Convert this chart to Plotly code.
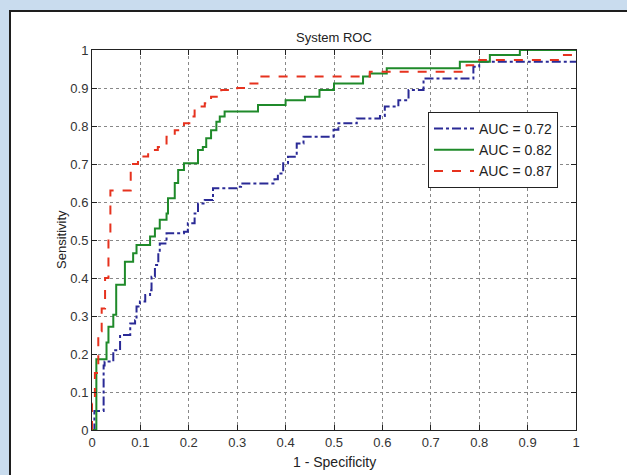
import plotly.graph_objects as go

# ---- data ----
fpr_072 = [0, 0.005, 0.024, 0.026, 0.044, 0.058, 0.079, 0.089, 0.092, 0.099, 0.11, 0.12, 0.123, 0.13,
           0.137, 0.14, 0.154, 0.19, 0.198, 0.212, 0.219, 0.233, 0.25, 0.302, 0.308, 0.377, 0.384,
           0.395, 0.405, 0.423, 0.437, 0.499, 0.509, 0.547, 0.595, 0.605, 0.633, 0.654, 0.685,
           0.788, 0.80, 1.0]
tpr_072 = [0, 0.05, 0.17, 0.18, 0.21, 0.25, 0.28, 0.289, 0.325, 0.338, 0.355, 0.368, 0.403, 0.434,
           0.469, 0.491, 0.518, 0.522, 0.544, 0.57, 0.596, 0.605, 0.636, 0.64, 0.649, 0.66, 0.675,
           0.702, 0.719, 0.754, 0.772, 0.79, 0.807, 0.82, 0.826, 0.851, 0.868, 0.895, 0.925,
           0.956, 0.969, 0.972]

fpr_082 = [0, 0.009, 0.03, 0.034, 0.044, 0.05, 0.068, 0.085, 0.092, 0.12, 0.13, 0.14, 0.154, 0.157,
           0.171, 0.178, 0.19, 0.219, 0.229, 0.236, 0.246, 0.257, 0.264, 0.274, 0.343, 0.40, 0.44,
           0.47, 0.50, 0.56, 0.574, 0.609, 0.76, 0.822, 0.884, 1.0]
tpr_082 = [0, 0.186, 0.23, 0.272, 0.303, 0.382, 0.443, 0.465, 0.487, 0.509, 0.53, 0.553, 0.57, 0.61,
           0.65, 0.684, 0.702, 0.737, 0.745, 0.768, 0.789, 0.811, 0.825, 0.838, 0.855, 0.868, 0.877,
           0.895, 0.912, 0.93, 0.938, 0.952, 0.969, 0.987, 1.0, 1.0]

fpr_087 = [0, 0, 0.006, 0.013, 0.02, 0.027, 0.034, 0.038, 0.08, 0.095, 0.116, 0.136, 0.154, 0.171,
           0.19, 0.205, 0.212, 0.233, 0.246, 0.267, 0.30, 0.322, 0.35, 0.574, 0.774, 0.80, 0.967, 1.0]
tpr_087 = [0, 0.07, 0.15, 0.26, 0.32, 0.40, 0.52, 0.63, 0.70, 0.72, 0.737, 0.745, 0.772, 0.789,
           0.807, 0.825, 0.851, 0.86, 0.877, 0.895, 0.90, 0.912, 0.93, 0.943, 0.96, 0.974, 0.987, 1.0]

series_names = ["AUC = 0.72", "AUC = 0.82", "AUC = 0.87"]
tick_vals = [0, 0.1, 0.2, 0.3, 0.4, 0.5, 0.6, 0.7, 0.8, 0.9, 1]
tick_text = ["0", "0.1", "0.2", "0.3", "0.4", "0.5", "0.6", "0.7", "0.8", "0.9", "1"]

FONT = "Liberation Sans, Arial, sans-serif"

fig = go.Figure()
fig.add_trace(go.Scatter(x=fpr_072, y=tpr_072, mode="lines", name=series_names[0],
                         line=dict(color="#2a2a96", width=2, dash="dashdot", shape="hv")))
fig.add_trace(go.Scatter(x=fpr_082, y=tpr_082, mode="lines", name=series_names[1],
                         line=dict(color="#1f8a2a", width=2, dash="solid", shape="hv")))
fig.add_trace(go.Scatter(x=fpr_087, y=tpr_087, mode="lines", name=series_names[2],
                         line=dict(color="#e6321e", width=2, dash="dash", shape="hv")))

L, R, T, B = 92, 51, 50, 45
W, H = 627, 475
pw, ph = W - L - R, H - T - B

def px(x):
    return (x - L) / pw

def py(y):
    return (H - B - y) / ph

axis_common = dict(
    range=[0, 1], tickvals=tick_vals, ticktext=tick_text,
    showgrid=True, gridcolor="#888888", griddash="dot", gridwidth=1,
    zeroline=False, showline=True, linecolor="#222222", linewidth=1, mirror="ticks",
    ticks="inside", ticklen=5, tickcolor="#222222",
    tickfont=dict(family=FONT, size=13, color="#333333"),
    fixedrange=True,
)

fig.update_layout(
    width=W, height=H,
    margin=dict(l=L, r=R, t=T, b=B),
    paper_bgcolor="#c9dcee",
    plot_bgcolor="white",
    font=dict(family=FONT, size=13, color="#222222"),
    xaxis=axis_common,
    yaxis=axis_common,
    showlegend=True,
    legend=dict(x=px(428), y=py(112), xanchor="left", yanchor="top",
                bgcolor="white", bordercolor="#222222", borderwidth=1,
                font=dict(family=FONT, size=14, color="#222222"),
                tracegroupgap=0, itemwidth=40),
    shapes=[dict(type="rect", xref="paper", yref="paper",
                 x0=px(10), x1=px(660), y0=py(500), y1=py(11),
                 fillcolor="white", line=dict(color="#1e1e1e", width=2), layer="below")],
    annotations=[
        dict(text="System ROC", xref="paper", yref="paper", x=px(334), y=py(37),
             xanchor="center", yanchor="middle", showarrow=False,
             font=dict(family=FONT, size=13, color="#222222")),
        dict(text="1 - Specificity", xref="paper", yref="paper", x=px(334), y=py(462),
             xanchor="center", yanchor="middle", showarrow=False,
             font=dict(family=FONT, size=14, color="#222222")),
        dict(text="Sensitivity", xref="paper", yref="paper", x=px(61), y=py(240),
             xanchor="center", yanchor="middle", showarrow=False, textangle=-90,
             font=dict(family=FONT, size=13, color="#222222")),
    ],
)

fig.write_html("out.html", config={"displayModeBar": False},
               post_script="document.body.style.margin='0px';document.body.style.overflow='hidden';")
